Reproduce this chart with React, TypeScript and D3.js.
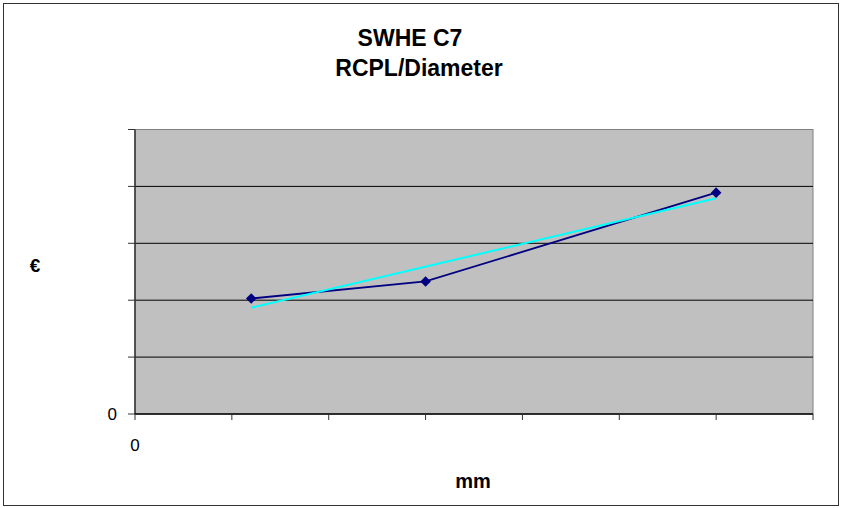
import * as d3 from 'd3';

const title = ['SWHE C7', 'RCPL/Diameter'];
const xAxisTitle = 'mm';
const yAxisTitle = '€';

// series (axis units: x 0..7, y 0..5)
const diameters = [1.2, 3, 6];
const costs = [2.03, 2.33, 3.89];

const xTicks = [0, 1, 2, 3, 4, 5, 6, 7];
const yTicks = [0, 1, 2, 3, 4, 5];
const xTickLabels = ['0'];
const yTickLabels = ['0'];

const W = 841;
const H = 508;
const plot = { left: 135, right: 813, top: 129.5, bottom: 414 };
const font = 'Arial, "Liberation Sans", sans-serif';

// least-squares line for the trendline
function linearFit(xs: number[], ys: number[]) {
  const mx = d3.mean(xs) ?? 0;
  const my = d3.mean(ys) ?? 0;
  const sxy = d3.sum(xs, (x, i) => (x - mx) * (ys[i] - my));
  const sxx = d3.sum(xs, (x) => (x - mx) ** 2);
  const slope = sxy / sxx;
  return { slope, intercept: my - slope * mx };
}

export default function App() {
  const x = d3.scaleLinear().domain([0, 7]).range([plot.left, plot.right]);
  const y = d3.scaleLinear().domain([0, 5]).range([plot.bottom, plot.top]);

  const points = diameters.map((d, i) => [d, costs[i]] as [number, number]);
  const line = d3
    .line<[number, number]>()
    .x((d) => x(d[0]))
    .y((d) => y(d[1]));

  const fit = linearFit(diameters, costs);
  const x0 = d3.min(diameters) ?? 0;
  const x1 = d3.max(diameters) ?? 0;
  const trend: [number, number][] = [
    [x0, fit.intercept + fit.slope * x0],
    [x1, fit.intercept + fit.slope * x1],
  ];

  // Excel-style diamond: a square turned 45 degrees
  const marker = d3.symbol(d3.symbolSquare, 56)() ?? '';

  return (
    <svg
      width={W}
      height={H}
      style={{ position: 'absolute', left: 0, top: 0, background: '#fff' }}
      fontFamily={font}
    >
      <rect x={3.5} y={3.5} width={835} height={502} fill="#fff" stroke="#333" />

      {/* plot area */}
      <rect
        x={plot.left}
        y={plot.top}
        width={plot.right - plot.left}
        height={plot.bottom - plot.top}
        fill="#c0c0c0"
        stroke="#808080"
      />
      {yTicks.slice(1, -1).map((t) => (
        <line key={t} x1={plot.left} x2={plot.right} y1={y(t)} y2={y(t)} stroke="#000" />
      ))}

      {/* axes */}
      <line x1={plot.left} x2={plot.left} y1={plot.top} y2={plot.bottom} stroke="#333" strokeWidth={1.5} />
      <line x1={plot.left} x2={plot.right} y1={plot.bottom} y2={plot.bottom} stroke="#000" strokeWidth={1.5} />
      {yTicks.map((t) => (
        <line key={t} x1={plot.left - 7} x2={plot.left} y1={y(t)} y2={y(t)} stroke="#333" />
      ))}
      {xTicks.map((t) => (
        <line key={t} x1={x(t)} x2={x(t)} y1={plot.bottom} y2={plot.bottom + 6} stroke="#333" />
      ))}
      {yTickLabels.map((l, i) => (
        <text key={l} x={plot.left - 18} y={y(yTicks[i])} dy="0.35em" textAnchor="end" fontSize={17}>
          {l}
        </text>
      ))}
      {xTickLabels.map((l, i) => (
        <text key={l} x={x(xTicks[i])} y={451} textAnchor="middle" fontSize={17}>
          {l}
        </text>
      ))}

      {/* series */}
      <path d={line(points) ?? ''} fill="none" stroke="#000080" strokeWidth={1.8} />
      <path d={line(trend) ?? ''} fill="none" stroke="#00ffff" strokeWidth={2} />
      {points.map((p, i) => (
        <path
          key={i}
          d={marker}
          transform={`translate(${x(p[0])},${y(p[1])}) rotate(45)`}
          fill="#000080"
        />
      ))}

      {/* titles */}
      <text x={410} y={46} textAnchor="middle" fontSize={23} fontWeight="bold">
        {title[0]}
      </text>
      <text x={419} y={76} textAnchor="middle" fontSize={23} fontWeight="bold">
        {title[1]}
      </text>
      <text x={35} y={272} textAnchor="middle" fontSize={19} fontWeight="bold">
        {yAxisTitle}
      </text>
      <text x={473} y={488} textAnchor="middle" fontSize={20} fontWeight="bold">
        {xAxisTitle}
      </text>
    </svg>
  );
}
